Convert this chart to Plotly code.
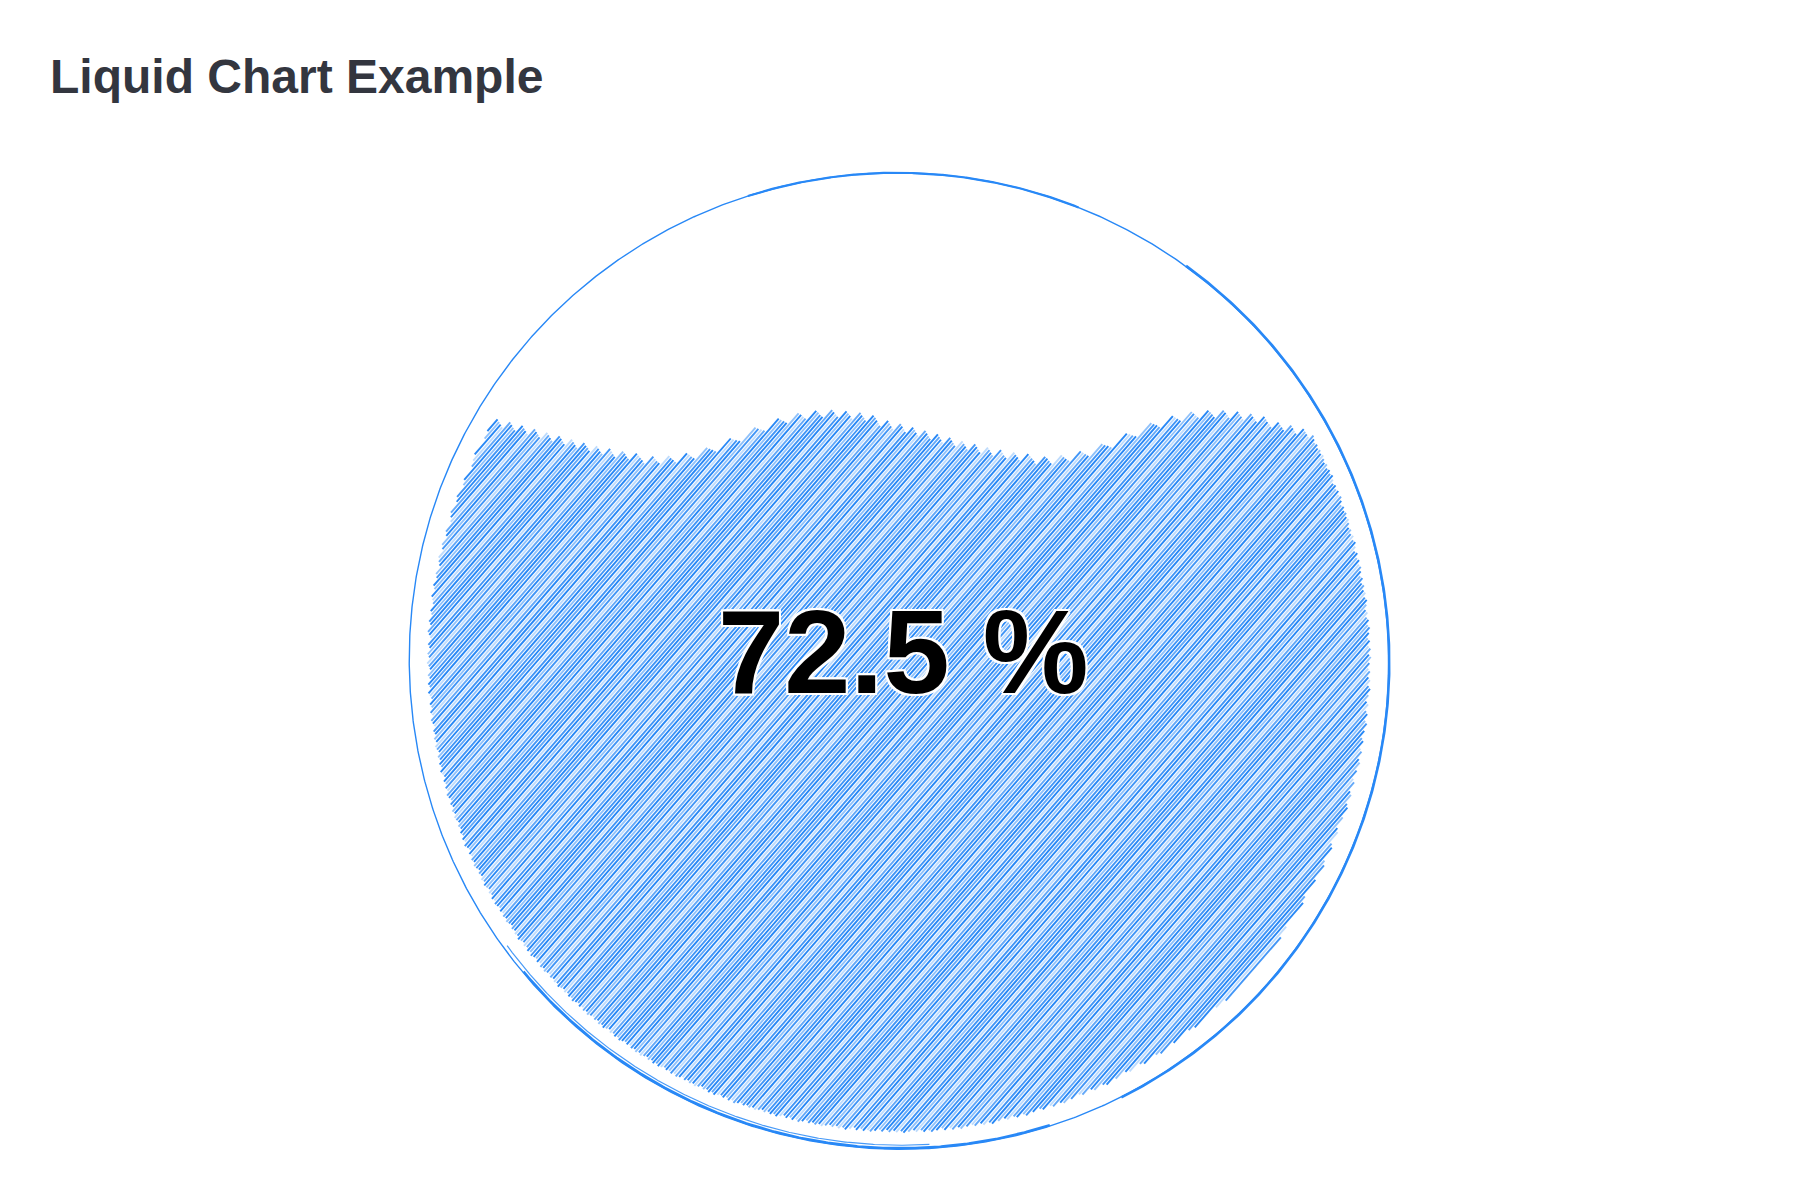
import numpy as np
import plotly.graph_objects as go

# ---- data ----
TITLE = "Liquid Chart Example"
VALUES = [0.725]
LABELS = [f"{v * 100:.1f} %" for v in VALUES]

# ---- geometry / style (pixel space) ----
W, H = 1800, 1200
CX, CY = 899.0, 661.0
R_OUT = 489.0
R_IN = 471.0
WAVE_AMP = 22.5
WAVE_LEN = 385.0
WAVE_X0 = 838.6
WAVE_SKEW = 0.19
ANGLE = np.deg2rad(49)
GAP = 2.9
BLUE = (40, 136, 246)
ALPHAS = [1.0, 1.0, 0.88, 0.72, 0.52, 0.3]
PHI = 0.6180339887

value = VALUES[0]
level_y = CY + R_OUT - value * 2 * R_OUT


def wave(x):
    u = 2 * np.pi * (x - WAVE_X0) / WAVE_LEN
    return level_y - WAVE_AMP * np.cos(u + WAVE_SKEW * np.cos(u))


d = np.array([np.cos(ANGLE), -np.sin(ANGLE)])
nrm = np.array([np.sin(ANGLE), np.cos(ANGLE)])

groups = {k: ([], []) for k in range(len(ALPHAS))}
offsets = np.arange(-R_IN - 5, R_IN + 5, GAP)
t = np.arange(-R_IN - 20, R_IN + 20, 0.5)
for i, c in enumerate(offsets):
    px = CX + c * nrm[0] + t * d[0]
    py = CY + c * nrm[1] + t * d[1]
    q = (i * PHI) % 1.0
    q2 = (i * 0.7548776662) % 1.0
    ext_top = q2 * 9.0                      # hand-drawn overshoot at the wave
    ext_rad = ((i * 0.5698402910) % 1.0) * 3.0 - 2.0   # wobble at the circle edge
    inside = ((px - CX) ** 2 + (py - CY) ** 2 <= (R_IN + ext_rad) ** 2) & (py >= wave(px) - ext_top)
    if not inside.any():
        continue
    edges = np.diff(inside.astype(int))
    starts = list(np.where(edges == 1)[0] + 1)
    ends = list(np.where(edges == -1)[0])
    if inside[0]:
        starts = [0] + starts
    if inside[-1]:
        ends = ends + [len(inside) - 1]
    g = int(q * len(ALPHAS))
    xs, ys = groups[g]
    for s, e in zip(starts, ends):
        if e - s < 2:
            continue
        xs.extend([px[s], px[e], None])
        ys.extend([py[s], py[e], None])

fig = go.Figure()
for g, a in enumerate(ALPHAS):
    xs, ys = groups[g]
    fig.add_trace(go.Scatter(
        x=xs, y=ys, mode="lines",
        line=dict(color=f"rgba({BLUE[0]},{BLUE[1]},{BLUE[2]},{a})", width=1.9),
        hoverinfo="skip", showlegend=False,
    ))

ring_col = f"rgb({BLUE[0]},{BLUE[1]},{BLUE[2]})"
# outer rough ring: thin base stroke
theta = np.linspace(0, 2 * np.pi, 1441)
r1 = R_OUT + 1.2 * np.sin(2 * theta + 0.7)
fig.add_trace(go.Scatter(
    x=CX + r1 * np.cos(theta), y=CY + r1 * np.sin(theta), mode="lines",
    line=dict(color=ring_col, width=1.4),
    hoverinfo="skip", showlegend=False,
))
# heavier strokes (right side and lower left), as in a hand-drawn ring
for a0, a1, dr, wd, op in [(-0.30 * np.pi, 0.35 * np.pi, 0.5, 2.6, 1.0),
                           (0.40 * np.pi, 0.78 * np.pi, -1.0, 2.4, 1.0),
                           (0.48 * np.pi, 0.80 * np.pi, -4.0, 1.2, 0.85),
                           (1.40 * np.pi, 1.62 * np.pi, 0.0, 2.2, 1.0)]:
    th = np.linspace(a0, a1, 400)
    rr = R_OUT + dr + 1.2 * np.sin(2 * th + 0.7)
    fig.add_trace(go.Scatter(
        x=CX + rr * np.cos(th), y=CY + rr * np.sin(th), mode="lines",
        line=dict(color=f"rgba({BLUE[0]},{BLUE[1]},{BLUE[2]},{op})", width=wd),
        hoverinfo="skip", showlegend=False,
    ))

shadow = ", ".join(f"{dx}px {dy}px 0 #fff" for dx, dy in
                   [(2, 0), (-2, 0), (0, 2), (0, -2), (2, 2), (-2, -2), (2, -2), (-2, 2)])
fig.add_annotation(
    x=903, y=651, xref="x", yref="y", text=LABELS[0], showarrow=False,
    xanchor="center", yanchor="middle",
    font=dict(family="Liberation Sans, Arial, sans-serif", size=119, color="#000000",
              weight="bold", shadow=shadow),
)
fig.add_annotation(
    x=48, y=76, xref="x", yref="y", text=TITLE, showarrow=False,
    xanchor="left", yanchor="middle",
    font=dict(family="Liberation Sans, Arial, sans-serif", size=48, color="#33363f",
              weight="bold"),
)

fig.update_layout(
    width=W, height=H, margin=dict(l=0, r=0, t=0, b=0),
    paper_bgcolor="white", plot_bgcolor="white",
    xaxis=dict(range=[0, W], visible=False, fixedrange=True),
    yaxis=dict(range=[H, 0], visible=False, fixedrange=True),
    showlegend=False, hovermode=False,
)
fig.write_html("out.html")
